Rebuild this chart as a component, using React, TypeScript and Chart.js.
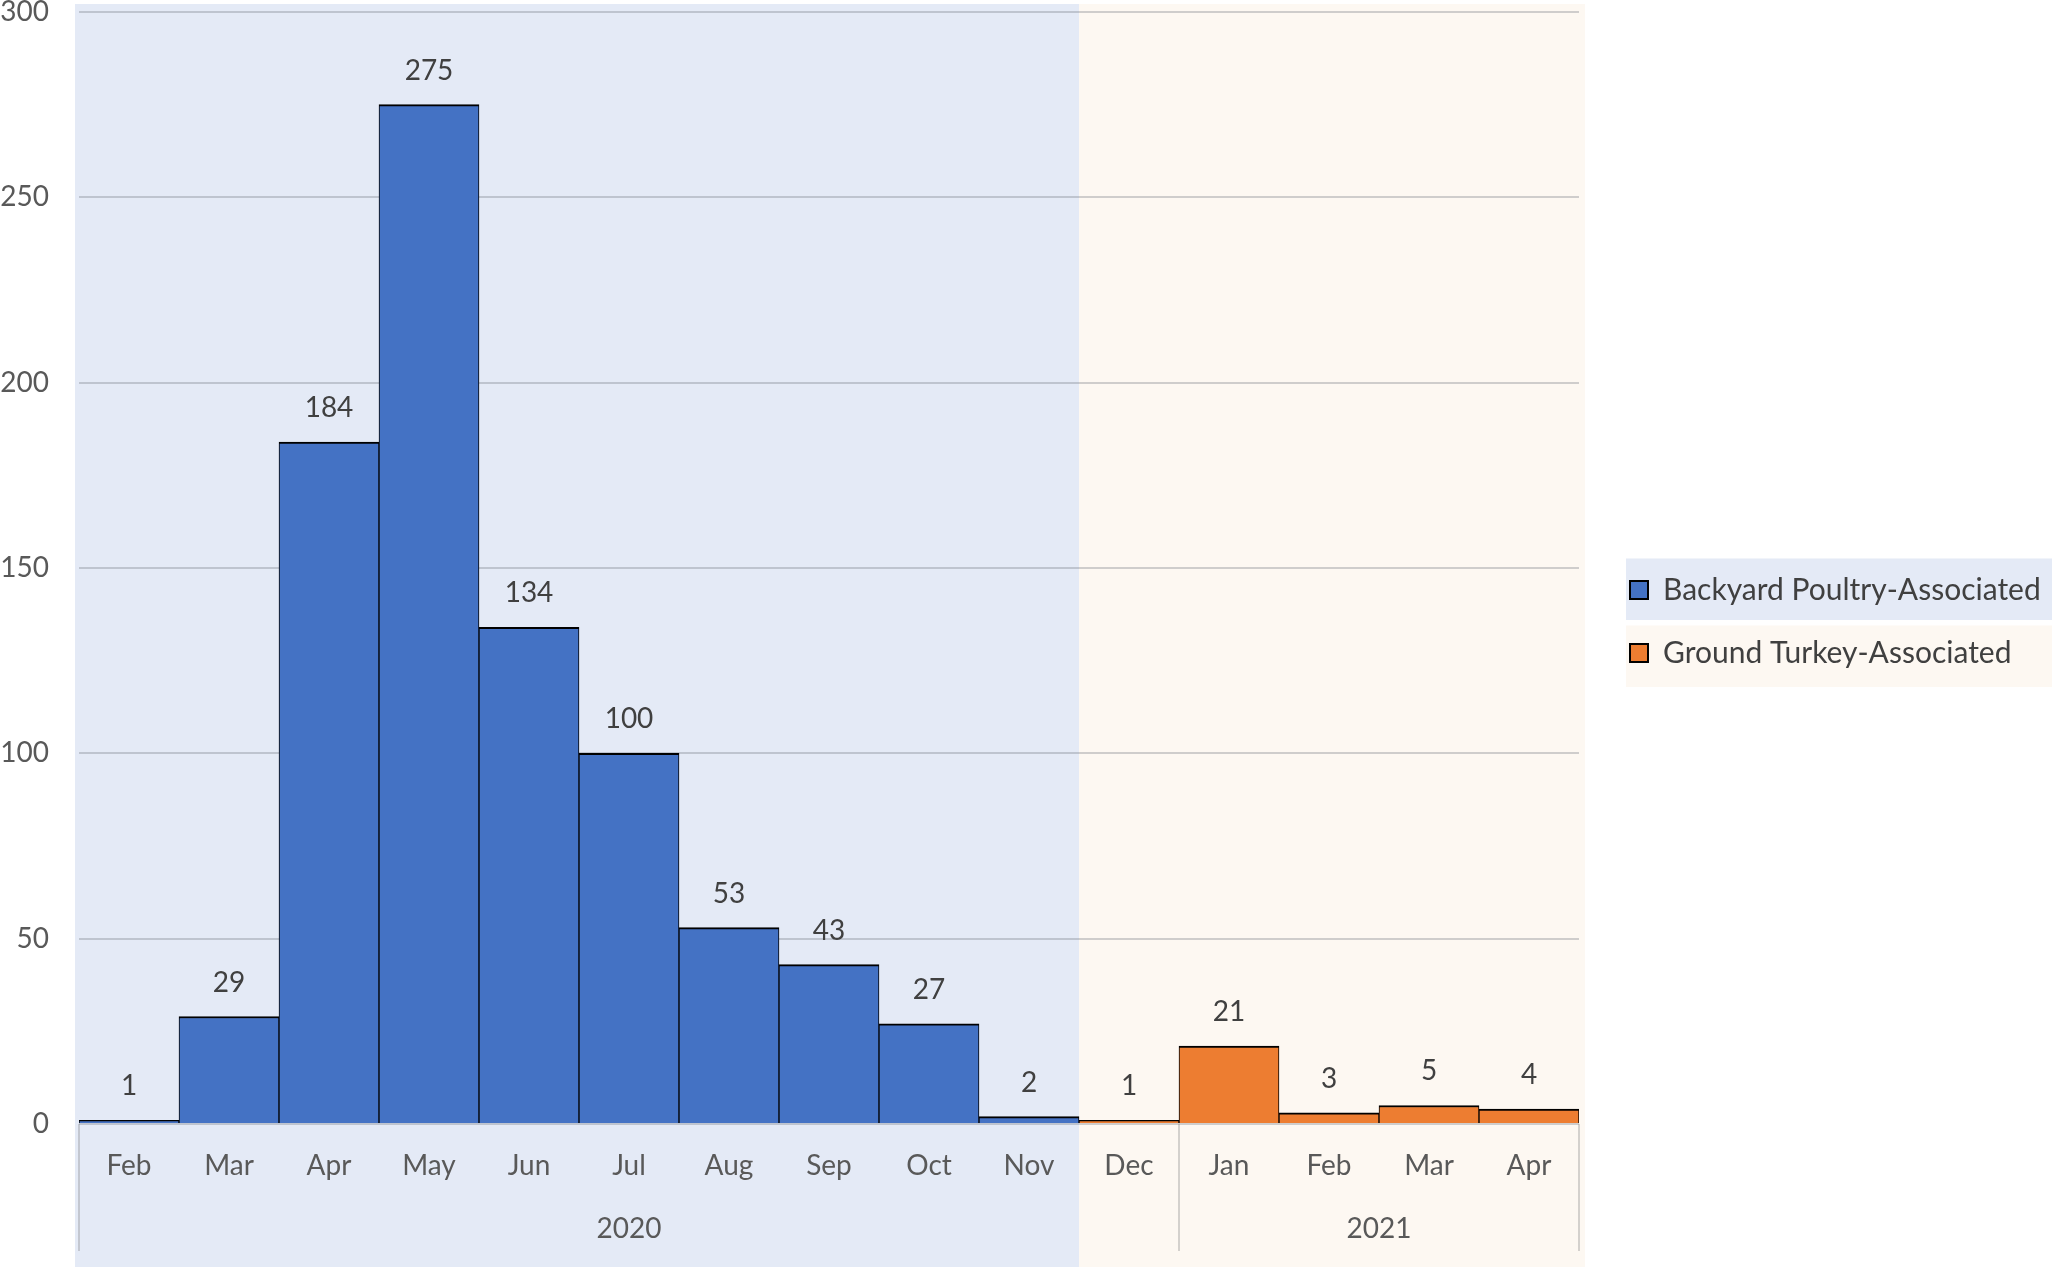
import React, { useEffect, useRef } from 'react';
import { Chart, registerables } from 'chart.js';

Chart.register(...registerables);

// ---------- data ----------
const MONTHS = ['Feb', 'Mar', 'Apr', 'May', 'Jun', 'Jul', 'Aug', 'Sep', 'Oct', 'Nov', 'Dec', 'Jan', 'Feb', 'Mar', 'Apr'];
const YEARS = ['2020', '2021'];
const YEAR_MONTH_COUNTS = [11, 4];
const BACKYARD_POULTRY = [1, 29, 184, 275, 134, 100, 53, 43, 27, 2, null, null, null, null, null];
const GROUND_TURKEY = [null, null, null, null, null, null, null, null, null, null, 1, 21, 3, 5, 4];
const SERIES_NAMES = ['Backyard Poultry-Associated', 'Ground Turkey-Associated'];
const Y_MIN = 0;
const Y_MAX = 300;
const Y_STEP = 50;

// ---------- style ----------
const FONT = 'Lato';
const BAR_COLORS = ['#4472C4', '#ED7D31'];
const PANEL_COLORS = ['#E4EAF6', '#FDF8F2'];
const GRID_COLOR = 'rgba(120,125,135,0.35)';
const SEP_COLOR = 'rgba(120,120,120,0.3)';
const TICK_COLOR = '#595959';
const LABEL_COLOR = '#404040';
const W = 2054;
const H = 1269;
const LEGEND_WIDTH = 475;
const LEGEND_BOX_X = 1630;
const LEGEND_FIRST_CENTER_Y = 590;
const LEGEND_PAD = 33;
const LEGEND_FONT = 30;

const firstIndex = (arr: (number | null)[]) => arr.findIndex((v) => v !== null);

const shadePlugin = {
  id: 'shadePanels',
  beforeDraw(chart: any) {
    const { ctx, chartArea, scales } = chart;
    const x = scales.x;
    const half = (x.getPixelForValue(1) - x.getPixelForValue(0)) / 2;
    const split = x.getPixelForValue(firstIndex(GROUND_TURKEY)) - half;
    const top = chartArea.top - 8;
    const bottom = chart.height - 2;
    const left = chartArea.left - 4;
    const right = chartArea.right + 6;
    ctx.save();
    ctx.fillStyle = PANEL_COLORS[0];
    ctx.fillRect(left, top, split - left, bottom - top);
    ctx.fillStyle = PANEL_COLORS[1];
    ctx.fillRect(split, top, right - split, bottom - top);
    const lg = chart.legend;
    if (lg && lg.legendHitBoxes && lg.legendHitBoxes.length) {
      const hbs = lg.legendHitBoxes;
      const first = hbs[0].top + hbs[0].height / 2;
      const last = hbs[hbs.length - 1].top + hbs[hbs.length - 1].height / 2;
      const mid = (first + last) / 2;
      const n = hbs.length;
      hbs.forEach((hb: any, i: number) => {
        const top0 = mid - (n / 2) * 67 + 4 + i * 67;
        ctx.fillStyle = PANEL_COLORS[i];
        ctx.fillRect(hb.left - 4, top0, chart.width - 2 - (hb.left - 4), 61.5);
      });
    }
    ctx.restore();
  },
};

const legendLayoutPlugin = {
  id: 'legendLayout',
  beforeLayout(chart: any) {
    const lg = chart.legend;
    if (lg && !lg.__patched) {
      const orig = lg.fit;
      lg.fit = function () {
        orig.call(this);
        this.width = LEGEND_WIDTH;
      };
      lg.__patched = true;
    }
  },
  afterLayout(chart: any) {
    const lg = chart.legend;
    if (!lg) return;
    const dx = LEGEND_BOX_X - (lg.left + LEGEND_PAD);
    lg.left += dx;
    lg.right += dx;
    const itemH = LEGEND_FONT;
    const colH = SERIES_NAMES.length * (itemH + LEGEND_PAD);
    const y0 = (lg.top + LEGEND_PAD + lg.bottom - colH) / 2 + itemH / 2;
    const dy = LEGEND_FIRST_CENTER_Y - y0;
    lg.top += dy;
    lg.bottom += dy;
  },
};

const valueLabelPlugin = {
  id: 'valueLabels',
  afterDatasetsDraw(chart: any) {
    const { ctx } = chart;
    ctx.save();
    ctx.font = `28px ${FONT}`;
    ctx.fillStyle = LABEL_COLOR;
    ctx.textAlign = 'center';
    ctx.textBaseline = 'middle';
    chart.data.datasets.forEach((ds: any, di: number) => {
      const meta = chart.getDatasetMeta(di);
      meta.data.forEach((el: any, i: number) => {
        const v = ds.data[i];
        if (v === null || v === undefined) return;
        ctx.fillText(String(v), el.x, el.y - 34);
      });
    });
    ctx.restore();
  },
};

const yearAxisPlugin = {
  id: 'yearAxis',
  afterDraw(chart: any) {
    const { ctx, chartArea, scales } = chart;
    const x = scales.x;
    const half = (x.getPixelForValue(1) - x.getPixelForValue(0)) / 2;
    const lineTop = chartArea.bottom;
    const lineBottom = chartArea.bottom + 127;
    ctx.save();
    ctx.strokeStyle = SEP_COLOR;
    ctx.lineWidth = 2;
    ctx.font = `28px ${FONT}`;
    ctx.fillStyle = TICK_COLOR;
    ctx.textAlign = 'center';
    ctx.textBaseline = 'middle';
    let start = 0;
    const bounds: number[] = [x.getPixelForValue(0) - half];
    YEAR_MONTH_COUNTS.forEach((n, k) => {
      const left = x.getPixelForValue(start) - half;
      const right = x.getPixelForValue(start + n - 1) + half;
      bounds.push(right);
      ctx.fillText(YEARS[k], (left + right) / 2, chartArea.bottom + 105);
      start += n;
    });
    bounds.forEach((bx) => {
      const px = Math.round(bx);
      ctx.beginPath();
      ctx.moveTo(px, lineTop);
      ctx.lineTo(px, lineBottom);
      ctx.stroke();
    });
    ctx.restore();
  },
};

export default function App() {
  const canvasRef = useRef<HTMLCanvasElement | null>(null);

  useEffect(() => {
    let chart: Chart | null = null;
    let cancelled = false;
    const build = () => {
      if (cancelled || !canvasRef.current) return;
      const borderW = { top: 2, left: 1, right: 1, bottom: 0 };
      chart = new Chart(canvasRef.current, {
        type: 'bar',
        data: {
          labels: MONTHS,
          datasets: [
            {
              label: SERIES_NAMES[0],
              data: BACKYARD_POULTRY,
              backgroundColor: BAR_COLORS[0],
              borderColor: '#000000',
              borderWidth: borderW,
              grouped: false,
              barPercentage: 1,
              categoryPercentage: 1,
            } as any,
            {
              label: SERIES_NAMES[1],
              data: GROUND_TURKEY,
              backgroundColor: BAR_COLORS[1],
              borderColor: '#000000',
              borderWidth: borderW,
              grouped: false,
              barPercentage: 1,
              categoryPercentage: 1,
            } as any,
          ],
        },
        options: {
          responsive: false,
          animation: false,
          devicePixelRatio: 1,
          layout: { padding: { top: 12, left: 0, right: 0, bottom: 0 } },
          scales: {
            x: {
              grid: { display: false, drawTicks: false },
              border: { display: false },
              ticks: {
                font: { family: FONT, size: 28 },
                color: TICK_COLOR,
                padding: 25,
                autoSkip: false,
                maxRotation: 0,
              },
              afterFit: (scale: any) => {
                scale.height = 145;
              },
            },
            y: {
              min: Y_MIN,
              max: Y_MAX,
              grid: { color: GRID_COLOR, lineWidth: 2, drawTicks: false },
              border: { display: false },
              ticks: {
                stepSize: Y_STEP,
                font: { family: FONT, size: 28 },
                color: TICK_COLOR,
                padding: 30,
              },
              afterFit: (scale: any) => {
                scale.width = 79;
                scale.paddingTop = 0;
                scale.paddingBottom = 0;
              },
            },
          },
          plugins: {
            tooltip: { enabled: false },
            legend: {
              position: 'right',
              align: 'center',
              labels: {
                font: { family: FONT, size: LEGEND_FONT },
                color: LABEL_COLOR,
                boxWidth: 18,
                boxHeight: 18,
                padding: LEGEND_PAD,
                generateLabels: (c: any) => {
                  const items = (Chart as any).defaults.plugins.legend.labels.generateLabels(c);
                  items.forEach((it: any) => {
                    it.lineWidth = 2;
                    it.strokeStyle = '#000000';
                  });
                  return items;
                },
              },
            },
          },
        } as any,
        plugins: [legendLayoutPlugin, shadePlugin, valueLabelPlugin, yearAxisPlugin] as any,
      });
    };
    const fontsReady = (document as any).fonts
      ? Promise.all([
          (document as any).fonts.load(`28px ${FONT}`),
          (document as any).fonts.load(`${LEGEND_FONT}px ${FONT}`),
        ]).catch(() => null)
      : Promise.resolve(null);
    fontsReady.then(build);
    return () => {
      cancelled = true;
      if (chart) chart.destroy();
    };
  }, []);

  return (
    <div style={{ position: 'absolute', left: 0, top: 0, width: W, height: H, background: '#ffffff' }}>
      <canvas ref={canvasRef} width={W} height={H} style={{ display: 'block' }} />
    </div>
  );
}
